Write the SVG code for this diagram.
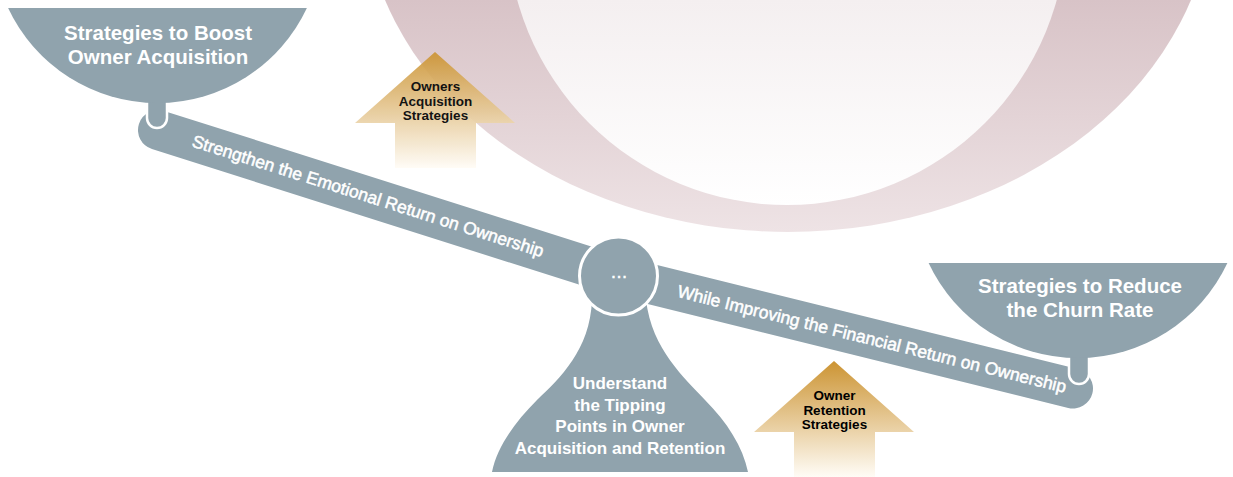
<svg xmlns="http://www.w3.org/2000/svg" width="1233" height="477" viewBox="0 0 1233 477">
  <defs>
    <linearGradient id="ringOuter" gradientUnits="userSpaceOnUse" x1="0" y1="0" x2="0" y2="232">
      <stop offset="0" stop-color="#d8c3c7"/>
      <stop offset="1" stop-color="#eee3e5"/>
    </linearGradient>
    <linearGradient id="ringInner" gradientUnits="userSpaceOnUse" x1="0" y1="0" x2="0" y2="205">
      <stop offset="0" stop-color="#f4eff0"/>
      <stop offset="1" stop-color="#ffffff"/>
    </linearGradient>
    <linearGradient id="gold" x1="0" y1="0" x2="0" y2="1">
      <stop offset="0" stop-color="#cc9433"/>
      <stop offset="1" stop-color="#fffcf6"/>
    </linearGradient>
    <path id="upArrow" d="M435,52 L515,123 L476,123 L476,168 L395,168 L395,123 L355,123 Z"/>
    <style>
      .slate { fill: #90a3ad; }
      .beam { stroke: #90a3ad; stroke-width: 40; stroke-linecap: round; fill: none; }
      .stem { fill: #90a3ad; stroke: #ffffff; stroke-width: 2.5; }
      .bowlText { font-family: "Liberation Sans", Arial, sans-serif; font-weight: bold; font-size: 20.5px; fill: #ffffff; text-anchor: middle; }
      .baseText { font-family: "Liberation Sans", Arial, sans-serif; font-weight: bold; font-size: 17px; fill: #ffffff; text-anchor: middle; }
      .beamText { font-family: "Liberation Sans", Arial, sans-serif; font-size: 17.5px; fill: #ffffff; stroke: #ffffff; stroke-width: 0.5; text-anchor: middle; }
      .arrowText { font-family: "Liberation Sans", Arial, sans-serif; font-weight: bold; font-size: 13.5px; fill: #000000; text-anchor: middle; }
    </style>
  </defs>

  <!-- backdrop ring -->
  <g id="ring">
    <ellipse cx="788" cy="-108" rx="425" ry="340" fill="url(#ringOuter)"/>
    <circle cx="787" cy="-75" r="280" fill="url(#ringInner)"/>
  </g>

  <!-- upward arrows -->
  <g id="arrow-acquisition" opacity="0.92">
    <use href="#upArrow" fill="url(#gold)"/>
    <text class="arrowText" x="435.5" y="91">Owners</text>
    <text class="arrowText" x="435.5" y="106">Acquisition</text>
    <text class="arrowText" x="435.5" y="120">Strategies</text>
  </g>
  <g id="arrow-retention">
    <use href="#upArrow" fill="url(#gold)" transform="translate(399,309)"/>
    <text class="arrowText" x="834.5" y="400">Owner</text>
    <text class="arrowText" x="834.5" y="415">Retention</text>
    <text class="arrowText" x="834.5" y="429">Strategies</text>
  </g>

  <!-- fulcrum base -->
  <g id="fulcrum">
    <path class="slate" d="M592,300 C590,350 560,378 537,400 C515,422 497,447 492,472 L748,472 C743,447 727,422 705,400 C685,378 652,350 646,300 Z"/>
    <text class="baseText" x="620" y="389">Understand</text>
    <text class="baseText" x="620" y="410.5">the Tipping</text>
    <text class="baseText" x="620" y="432">Points in Owner</text>
    <text class="baseText" x="620" y="453.5">Acquisition and Retention</text>
  </g>

  <!-- lever arms -->
  <g id="connectors">
    <line class="beam" x1="158" y1="130" x2="618" y2="276"/>
    <line class="beam" x1="618" y1="276" x2="1073" y2="388.5"/>
    <text class="beamText" transform="translate(368,196) rotate(17.6)" x="0" y="6">Strengthen the Emotional Return on Ownership</text>
    <text class="beamText" transform="translate(872,339) rotate(13.9)" x="0" y="6">While Improving the Financial Return on Ownership</text>
  </g>

  <!-- left pan -->
  <g id="bowl-left">
    <path class="stem" d="M147,98 L147,118 A10,10 0 0 0 167,118 L167,98"/>
    <path class="slate" d="M8.1,8 L306.9,8 A165,165 0 0 1 8.1,8 Z"/>
    <text class="bowlText" x="158" y="39.5">Strategies to Boost</text>
    <text class="bowlText" x="158" y="63.5">Owner Acquisition</text>
  </g>

  <!-- right pan -->
  <g id="bowl-right">
    <path class="stem" d="M1069,352 L1069,374 A10,10 0 0 0 1089,374 L1089,352"/>
    <path class="slate" d="M928.6,263 L1227.4,263 A165,165 0 0 1 928.6,263 Z"/>
    <text class="bowlText" x="1080" y="293">Strategies to Reduce</text>
    <text class="bowlText" x="1080" y="317">the Churn Rate</text>
  </g>

  <!-- pivot -->
  <g id="hub">
    <circle class="slate" cx="618.5" cy="276" r="39" stroke="#ffffff" stroke-width="3"/>
    <text class="beamText" x="619" y="278" font-size="16">…</text>
  </g>
</svg>
